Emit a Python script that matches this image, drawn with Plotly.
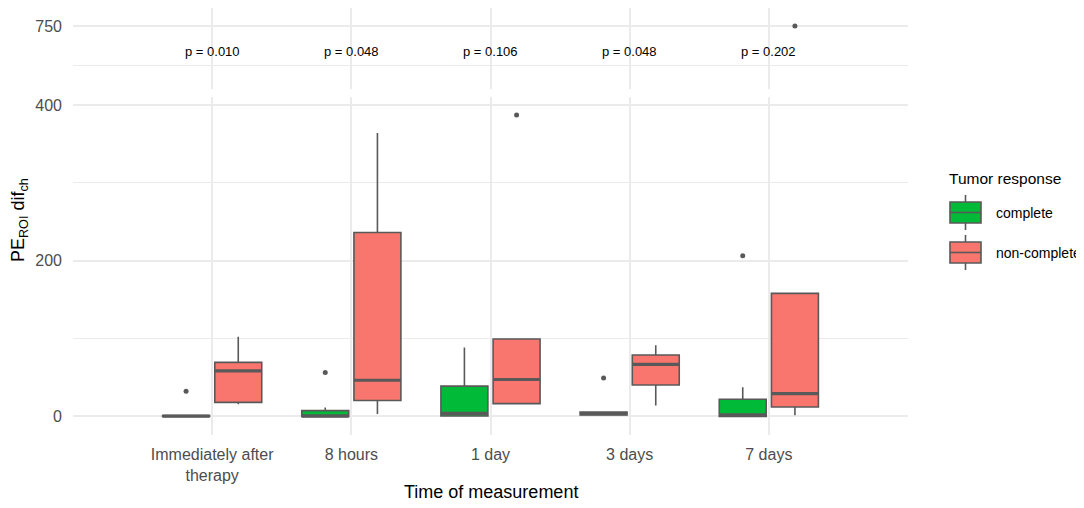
import plotly.graph_objects as go

# ---------------- data ----------------
categories = ["Immediately after<br>therapy", "8 hours", "1 day", "3 days", "7 days"]
p_values = ["p = 0.010", "p = 0.048", "p = 0.106", "p = 0.048", "p = 0.202"]

complete_lower = [-0.5, -0.5, 0.0, 1.5, -0.5]
complete_q1 = [-0.5, -0.5, 0.0, 1.5, -0.5]
complete_median = [0.0, 0.0, 3.5, 3.0, 1.5]
complete_q3 = [0.5, 7.0, 38.5, 5.0, 21.5]
complete_upper = [0.5, 11.0, 88.0, 5.0, 37.0]
complete_out_cat = [1, 2, 4, 5]
complete_out_val = [32, 56, 49, 206]

noncomp_lower = [15.0, 2.6, 15.0, 13.7, 1.0]
noncomp_q1 = [17.6, 20.0, 16.0, 40.0, 11.6]
noncomp_median = [58.0, 46.0, 47.0, 66.5, 28.7]
noncomp_q3 = [69.0, 236.0, 99.0, 78.5, 157.8]
noncomp_upper = [102.0, 364.0, 99.0, 91.0, 157.8]
noncomp_out_cat = [3, 5]
noncomp_out_val = [387, 750]

group_names = ["complete", "non-complete"]
group_colors = ["#00BA38", "#F8766D"]

# ---------------- layout constants ----------------
OFF = 8                      # page body margin in the browser
W, H = 1084 - OFF, 508 - OFF
ML, MR, MT, MB = 73 - OFF, 176, 0, 73
PW, PH = W - ML - MR, H - MT - MB
LINE = "#595959"
GRID = "#ebebeb"
FONT = "Liberation Sans, Arial, sans-serif"
DODGE = 0.1875
BOXW = 0.3375
TOP_BREAK = 750  # values at or above this go to the upper panel


def px_x(px):
    """screen x pixel -> paper x"""
    return (px - OFF - ML) / PW


def px_y(py):
    """screen y pixel -> paper y"""
    return (H - MB - (py - OFF)) / PH


cat_pos = list(range(1, len(categories) + 1))

fig = go.Figure()

groups = [
    (complete_lower, complete_q1, complete_median, complete_q3, complete_upper,
     complete_out_cat, complete_out_val, -DODGE),
    (noncomp_lower, noncomp_q1, noncomp_median, noncomp_q3, noncomp_upper,
     noncomp_out_cat, noncomp_out_val, DODGE),
]

for gi, (lo, q1, med, q3, up, oc, ov, off) in enumerate(groups):
    xs = [c + off for c in cat_pos]
    fig.add_trace(go.Box(
        x=xs, q1=q1, median=med, q3=q3, lowerfence=lo, upperfence=up,
        width=BOXW, whiskerwidth=0, fillcolor=group_colors[gi],
        line=dict(color=LINE, width=1.6), boxpoints=False,
        name=group_names[gi], showlegend=False, hoverinfo="skip",
        xaxis="x", yaxis="y",
    ))
    # thicker median lines (ggplot fatten)
    mx, my = [], []
    for x, m in zip(xs, med):
        mx += [x - BOXW / 2, x + BOXW / 2, None]
        my += [m, m, None]
    fig.add_trace(go.Scatter(x=mx, y=my, mode="lines",
                             line=dict(color=LINE, width=3.2),
                             showlegend=False, hoverinfo="skip",
                             xaxis="x", yaxis="y"))
    # outliers
    lo_x = [c + off for c, v in zip(oc, ov) if v < TOP_BREAK]
    lo_y = [v for v in ov if v < TOP_BREAK]
    hi_x = [c + off for c, v in zip(oc, ov) if v >= TOP_BREAK]
    hi_y = [v for v in ov if v >= TOP_BREAK]
    if lo_x:
        fig.add_trace(go.Scatter(x=lo_x, y=lo_y, mode="markers",
                                 marker=dict(color=LINE, size=5),
                                 showlegend=False, hoverinfo="skip",
                                 xaxis="x", yaxis="y"))
    if hi_x:
        fig.add_trace(go.Scatter(x=hi_x, y=hi_y, mode="markers",
                                 marker=dict(color=LINE, size=5),
                                 showlegend=False, hoverinfo="skip",
                                 xaxis="x2", yaxis="y2"))

# p-value labels in upper panel
for c, p in zip(cat_pos, p_values):
    fig.add_annotation(x=c, y=734, xref="x2", yref="y2", text=p,
                       showarrow=False, font=dict(size=13, color="black", family=FONT),
                       xanchor="center", yanchor="middle")

bottom_dom = [0, px_y(97)]
top_dom = [px_y(89), 1]

fig.update_layout(
    width=W, height=H,
    margin=dict(l=ML, r=MR, t=MT, b=MB, pad=0),
    paper_bgcolor="white", plot_bgcolor="white",
    font=dict(family=FONT, color="#4D4D4D", size=16),
    boxmode="overlay",
    xaxis=dict(domain=[0, 1], anchor="y", range=[0, 6],
               tickmode="array", tickvals=cat_pos, ticktext=categories,
               showgrid=True, gridcolor=GRID, gridwidth=2, zeroline=False,
               showline=False, ticks="", ticklabelstandoff=8,
               tickfont=dict(size=16, color="#4D4D4D")),
    xaxis2=dict(domain=[0, 1], anchor="y2", range=[0, 6], matches="x",
                tickmode="array", tickvals=cat_pos, showticklabels=False,
                showgrid=True, gridcolor=GRID, gridwidth=2, zeroline=False,
                showline=False, ticks=""),
    yaxis=dict(domain=bottom_dom, anchor="x", range=[-24.4, 410.3],
               tickmode="array", tickvals=[0, 200, 400],
               showgrid=True, gridcolor=GRID, gridwidth=2, zeroline=False,
               showline=False, ticks="", ticklabelstandoff=10,
               tickfont=dict(size=16, color="#4D4D4D"),
               minor=dict(tickvals=[100, 300], showgrid=True, gridcolor=GRID,
                          gridwidth=1.2, ticks="")),
    yaxis2=dict(domain=top_dom, anchor="x2", range=[710.3, 761.3],
                tickmode="array", tickvals=[750],
                showgrid=True, gridcolor=GRID, gridwidth=2, zeroline=False,
                showline=False, ticks="", ticklabelstandoff=10,
                tickfont=dict(size=16, color="#4D4D4D"),
                minor=dict(tickvals=[725], showgrid=True, gridcolor=GRID,
                           gridwidth=1.2, ticks="")),
)

# axis titles
fig.add_annotation(x=0.5, y=px_y(492), xref="paper", yref="paper",
                   text="Time of measurement", showarrow=False,
                   font=dict(size=18, color="black", family=FONT),
                   xanchor="center", yanchor="middle")
fig.add_annotation(x=px_x(19), y=px_y(220), xref="paper", yref="paper",
                   text="PE<sub>ROI</sub> dif<sub>ch</sub>", showarrow=False,
                   textangle=-90,
                   font=dict(size=18, color="black", family=FONT),
                   xanchor="center", yanchor="middle")

# legend (drawn manually to mimic ggplot keys)
fig.add_annotation(x=px_x(947), y=px_y(178), xref="paper", yref="paper",
                   text="Tumor response", showarrow=False,
                   font=dict(size=15.5, color="black", family=FONT),
                   xanchor="left", yanchor="middle")
key_tops = [202, 242]
for name, col, top in zip(group_names, group_colors, key_tops):
    x0, x1 = px_x(950), px_x(981)
    xc = px_x(965.5)
    bot = top + 21
    fig.add_shape(type="line", xref="paper", yref="paper", x0=xc, x1=xc,
                  y0=px_y(top - 7), y1=px_y(bot + 7),
                  line=dict(color=LINE, width=1.6))
    fig.add_shape(type="rect", xref="paper", yref="paper", x0=x0, x1=x1,
                  y0=px_y(bot), y1=px_y(top), fillcolor=col,
                  line=dict(color=LINE, width=1.6))
    fig.add_shape(type="line", xref="paper", yref="paper", x0=x0, x1=x1,
                  y0=px_y((top + bot) / 2), y1=px_y((top + bot) / 2),
                  line=dict(color=LINE, width=1.6))
    fig.add_annotation(x=px_x(994), y=px_y((top + bot) / 2), xref="paper",
                       yref="paper", text=name, showarrow=False,
                       font=dict(size=14, color="black", family=FONT),
                       xanchor="left", yanchor="middle")

fig.write_html("out.html")
